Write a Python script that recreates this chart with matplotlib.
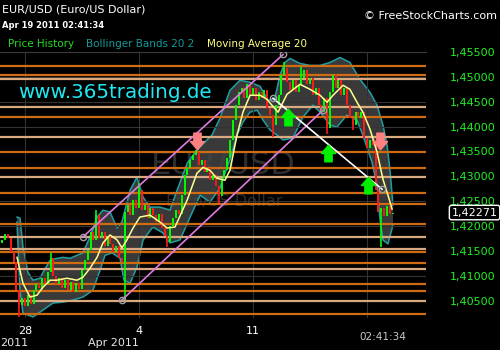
import numpy as np
import matplotlib
matplotlib.use('Agg')
import matplotlib.pyplot as plt
import matplotlib.transforms as mtransforms
from matplotlib.path import Path
from matplotlib.ticker import FuncFormatter

# EUR/USD, x = trading days since Mon 28 Mar 2011
bar_start = -1.0
bar_step = 0.125
first_open = 1.4165
close = [
    1.4172, 1.4184, 1.4176, 1.4148, 1.4127, 1.4071, 1.4041, 1.4055, 1.4039, 1.4061,
    1.4043, 1.4071, 1.4083, 1.4075, 1.4095, 1.4083, 1.4107, 1.4135, 1.4099, 1.4083,
    1.4095, 1.4075, 1.4091, 1.4071, 1.4087, 1.4067, 1.4085, 1.4073, 1.4111, 1.4131,
    1.4152, 1.4188, 1.4172, 1.4222, 1.4176, 1.4188, 1.4160, 1.4180, 1.4164, 1.4148,
    1.4160, 1.4135, 1.4127, 1.4228, 1.4242, 1.4222, 1.4252, 1.4236, 1.4272, 1.4232,
    1.4242, 1.4216, 1.4236, 1.4222, 1.4208, 1.4224, 1.4196, 1.4180, 1.4168, 1.4200,
    1.4216, 1.4232, 1.4224, 1.4262, 1.4302, 1.4316, 1.4332, 1.4342, 1.4349, 1.4322,
    1.4332, 1.4308, 1.4316, 1.4292, 1.4302, 1.4280, 1.4260, 1.4296, 1.4312, 1.4336,
    1.4373, 1.4413, 1.4443, 1.4469, 1.4477, 1.4457, 1.4485, 1.4463, 1.4477, 1.4453,
    1.4469, 1.4457, 1.4473, 1.4437, 1.4423, 1.4403, 1.4443, 1.4463, 1.4503, 1.4517,
    1.4489, 1.4473, 1.4493, 1.4469, 1.4483, 1.4497, 1.4513, 1.4485, 1.4497, 1.4463,
    1.4477, 1.4443, 1.4429, 1.4457, 1.4397, 1.4469, 1.4503, 1.4477, 1.4493, 1.4463,
    1.4477, 1.4443, 1.4417, 1.4403, 1.4429, 1.4417, 1.4429, 1.4377, 1.4357, 1.4373,
    1.4363, 1.4272, 1.4228, 1.4236, 1.4220, 1.4240, 1.4224, 1.42271]

# long wicks
spike_bar = [6, 17, 33, 43, 48, 58, 68, 76, 95, 99, 105, 114, 123, 133]
spike_to = [1.4017, 1.4145, 1.4232, 1.4051, 1.4286, 1.4158, 1.4353, 1.4246,
            1.4379, 1.4529, 1.4519, 1.4385, 1.4393, 1.4158]

# moving average 20
ma_t = [-0.35, -0.09, 0.22, 0.53, 0.79, 1.10, 1.40, 1.84, 2.28, 2.54, 2.85, 3.16,
        3.42, 3.73, 4.04, 4.25, 4.47, 4.74, 5.04, 5.48, 5.92, 6.23, 6.58, 7.11,
        7.54, 7.81, 8.11, 8.42, 8.77, 8.99, 9.30, 9.56, 9.87, 10.31, 10.61, 10.83,
        11.10, 11.49, 12.06, 12.50, 12.94, 13.25, 13.51, 13.95, 14.25, 14.56, 14.82,
        15.13, 15.44, 15.70, 15.92, 16.10]
ma_p = [1.4137, 1.4085, 1.4057, 1.4061, 1.4077, 1.4091, 1.4091, 1.4095, 1.4091,
        1.4097, 1.4115, 1.4137, 1.4166, 1.4182, 1.4172, 1.4156, 1.4172, 1.4196,
        1.4218, 1.4222, 1.4208, 1.4196, 1.4198, 1.4252, 1.4306, 1.4318, 1.4312,
        1.4296, 1.4292, 1.4312, 1.4383, 1.4429, 1.4463, 1.4463, 1.4455, 1.4443,
        1.4429, 1.4465, 1.4485, 1.4475, 1.4463, 1.4449, 1.4463, 1.4483, 1.4475,
        1.4449, 1.4429, 1.4395, 1.4349, 1.4294, 1.4262, 1.4234]

# bollinger bands 20 2
up_t = [-0.35, -0.22, -0.09, 0.13, 0.35, 0.66, 0.79, 1.10, 1.40, 1.67, 1.97, 2.28,
        2.54, 2.85, 3.16, 3.42, 3.73, 4.04, 4.25, 4.61, 4.91, 5.18, 5.48, 5.92,
        6.36, 6.67, 7.11, 7.54, 7.89, 8.20, 8.55, 8.99, 9.43, 9.87, 10.31, 10.66,
        10.96, 11.18, 11.40, 11.62, 12.06, 12.50, 12.94, 13.38, 13.82, 14.25, 14.69,
        15.13, 15.44, 15.70, 15.88, 16.01, 16.14]
up_p = [1.4218, 1.4216, 1.4158, 1.4107, 1.4091, 1.4095, 1.4107, 1.4131, 1.4135,
        1.4137, 1.4135, 1.4141, 1.4146, 1.4178, 1.4218, 1.4232, 1.4228, 1.4196,
        1.4208, 1.4272, 1.4298, 1.4258, 1.4238, 1.4238, 1.4232, 1.4272, 1.4326,
        1.4353, 1.4369, 1.4383, 1.4417, 1.4473, 1.4493, 1.4489, 1.4481, 1.4453,
        1.4457, 1.4503, 1.4529, 1.4537, 1.4527, 1.4523, 1.4523, 1.4529, 1.4539,
        1.4529, 1.4495, 1.4469, 1.4443, 1.4403, 1.4363, 1.4312, 1.4242]
lo_t = [-0.35, -0.22, -0.09, 0.35, 0.79, 1.23, 1.67, 2.11, 2.54, 2.98, 3.29, 3.51,
        3.82, 4.17, 4.34, 4.61, 4.91, 5.18, 5.61, 6.05, 6.36, 6.80, 7.24, 7.68,
        8.11, 8.55, 8.99, 9.30, 9.56, 9.87, 10.18, 10.44, 10.75, 11.05, 11.32,
        11.75, 12.19, 12.63, 12.94, 13.38, 13.68, 14.12, 14.56, 14.82, 15.00,
        15.22, 15.44, 15.57, 15.70, 15.92, 16.14]
lo_p = [1.4208, 1.4071, 1.4025, 1.4017, 1.4031, 1.4045, 1.4047, 1.4051, 1.4057,
        1.4071, 1.4111, 1.4141, 1.4146, 1.4135, 1.4091, 1.4085, 1.4117, 1.4172,
        1.4198, 1.4186, 1.4166, 1.4172, 1.4218, 1.4262, 1.4248, 1.4276, 1.4334,
        1.4383, 1.4409, 1.4429, 1.4433, 1.4413, 1.4393, 1.4383, 1.4373, 1.4377,
        1.4419, 1.4443, 1.4429, 1.4403, 1.4399, 1.4423, 1.4413, 1.4383, 1.4358,
        1.4328, 1.4282, 1.4214, 1.4172, 1.4164, 1.4202]

# support / resistance levels
level_dark = [1.4521, 1.4503, 1.4419, 1.4349, 1.4316, 1.4266, 1.4244, 1.4204,
              1.4148, 1.4125, 1.4083, 1.4069, 1.4023]
level_light = [1.4495, 1.4439, 1.4379, 1.4298, 1.4178, 1.4154, 1.4113, 1.4049]

# drawn trend lines
trend_t = [[2.54, 11.32], [4.25, 13.07], [10.88, 15.66]]
trend_p = [[1.4178, 1.4545], [1.4051, 1.4433], [1.4457, 1.4274]]
trend_c = ['#e07be0', '#e07be0', 'white']

# signal arrows
sell_t = [7.54, 15.57]
sell_p = [1.4372, 1.4371]
buy_t = [11.54, 13.29, 15.04]
buy_p = [1.4420, 1.4347, 1.4283]

last_price = 1.42271
yticks = [1.405, 1.410, 1.415, 1.420, 1.425, 1.430, 1.435, 1.440, 1.445, 1.450, 1.455]

fig = plt.figure(figsize=(5, 3.5), dpi=100, facecolor='black')
ax = fig.add_axes([0, 32 / 350, 426 / 500, 266 / 350], facecolor='black')

# watermark
ax.text(8.71, 1.4322, 'EUR/USD', ha='center', va='center', fontsize=23,
        color='#2e2e2e', zorder=0.5)
ax.text(8.73, 1.4250, 'Euro/US Dollar', ha='center', va='center', fontsize=11.5,
        color='#2e2e2e', zorder=0.5)

# bollinger band
ax.fill(np.r_[up_t, lo_t[::-1]], np.r_[up_p, lo_p[::-1]], color='#444444',
        alpha=0.85, lw=0, zorder=1)
ax.plot(up_t, up_p, color='#1e9fa6', lw=1.1, zorder=1.5)
ax.plot(lo_t, lo_p, color='#1e9fa6', lw=1.1, zorder=1.5)

for lv in level_dark:
    ax.axhline(lv, color='#cf6b12', lw=1.6, zorder=2)
for lv in level_light:
    ax.axhline(lv, color='#d9aa80', lw=1.6, zorder=2)

# candles
c = np.array(close)
o = np.r_[first_open, c[:-1]]
t = bar_start + bar_step * np.arange(len(c))
col = np.where(c >= o, '#00ff00', '#ff1a1a')
ax.vlines(t, o, c, colors=col, lw=1.4, zorder=3)
sb = np.array(spike_bar)
ax.vlines(t[sb], c[sb], spike_to, colors=col[sb], lw=1.2, zorder=3)

ax.plot(ma_t, ma_p, color='#ffff8c', lw=1.1, zorder=4)

for tt, pp, cc in zip(trend_t, trend_p, trend_c):
    ax.plot(tt, pp, color=cc, lw=1.2, zorder=5)
    ax.plot(tt, pp, 'o', ms=4.5, mfc='none', mec='#a0a0a0', mew=1, zorder=5)

arrow = Path([(-0.22, -0.5), (0.22, -0.5), (0.22, 0.0), (0.42, 0.0), (0.0, 0.5),
              (-0.42, 0.0), (-0.22, 0.0), (-0.22, -0.5)], closed=True)
arrow_down = Path(arrow.vertices * [1, -1], closed=True)
ax.plot(buy_t, buy_p, ls='none', marker=arrow, ms=12, color='#00ee00', zorder=6)
ax.plot(sell_t, sell_p, ls='none', marker=arrow_down, ms=12, color='#ff8080', zorder=6)

ax.set_xlim(-1.096, 17.588)
ax.set_ylim(1.4015, 1.4550)

ax.set_xticks([0, 5, 10, 15])
ax.set_xticklabels(['28', '4', '11', ''])
ax.set_yticks(yticks)
ax.yaxis.set_major_formatter(FuncFormatter(lambda v, p: f'{v:.5f}'.replace('.', ',')))
ax.yaxis.tick_right()
ax.tick_params(axis='x', colors='white', length=0, pad=6, labelsize=8)
ax.tick_params(axis='y', colors='#22ee22', length=0, pad=17, labelsize=8)
ax.grid(True, color='#333333', lw=0.8, zorder=0)
for s in ['left', 'right', 'bottom']:
    ax.spines[s].set_visible(False)
ax.spines['top'].set_color('#3a3a3a')

tr = mtransforms.blended_transform_factory(ax.transAxes, ax.transAxes)
ax.text(0.0, -0.094, '2011', transform=tr, ha='left', va='center', color='#e6e6e6', fontsize=8)
tr = mtransforms.blended_transform_factory(ax.transData, ax.transAxes)
ax.text(5, -0.094, 'Apr 2011', transform=tr, ha='right', va='center', color='#e6e6e6', fontsize=8)
ax.text(15.7, -0.071, '02:41:34', transform=tr, ha='center', va='center', color='#c8c8d0', fontsize=7.5)

tr2 = mtransforms.blended_transform_factory(ax.transAxes, ax.transData)
ax.text(1.06, last_price, '1,42271', transform=tr2, ha='left', va='center', color='white',
        fontsize=8, zorder=10, bbox=dict(boxstyle='round,pad=0.2', fc='black', ec='white', lw=1))

fig.text(2 / 500, 1 - 10 / 350, 'EUR/USD (Euro/US Dollar)', color='white', fontsize=8, va='center')
fig.text(2 / 500, 1 - 25 / 350, 'Apr 19 2011 02:41:34', color='white', fontsize=6,
         weight='bold', va='center')
fig.text(8 / 500, 1 - 44 / 350, 'Price History', color='#22dd22', fontsize=7.5, va='center')
fig.text(86 / 500, 1 - 44 / 350, 'Bollinger Bands 20 2', color='#159a9a', fontsize=7.5, va='center')
fig.text(207 / 500, 1 - 44 / 350, 'Moving Average 20', color='#ffff80', fontsize=7.5, va='center')
fig.text(497 / 500, 1 - 16 / 350, '\u00a9 FreeStockCharts.com', color='white', fontsize=8,
         ha='right', va='center')
fig.text(18 / 500, 1 - 92 / 350, 'www.365trading.de', color='#20e8f0', fontsize=14.3, va='center')

fig.savefig('out.png', dpi=100, facecolor='black')
